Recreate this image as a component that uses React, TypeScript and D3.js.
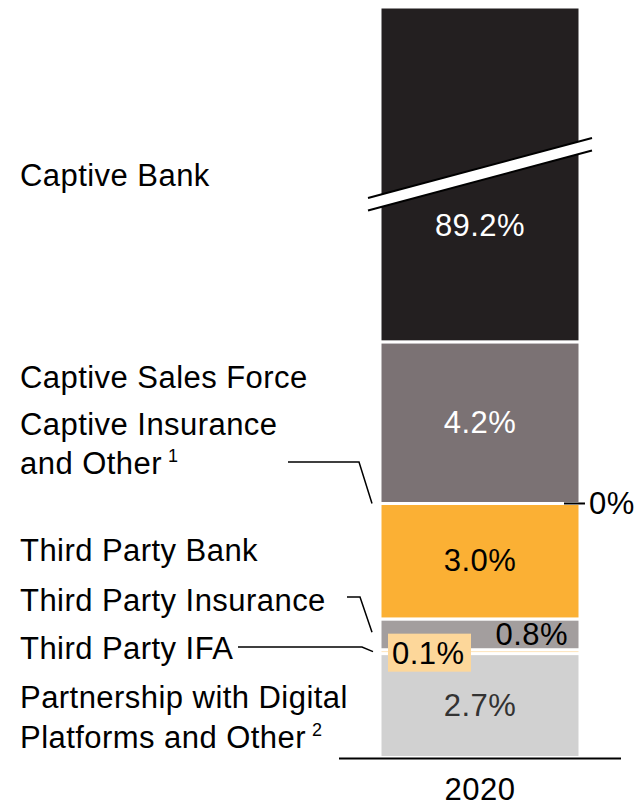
import React from "react";
import * as d3 from "d3";

// Distribution channel mix, 2020 (bottom-to-top stacking order reversed below)
const channels = [
  "Captive Bank",
  "Captive Sales Force",
  "Captive Insurance and Other",
  "Third Party Bank",
  "Third Party Insurance",
  "Third Party IFA",
  "Partnership with Digital Platforms and Other",
];
const shares2020 = [89.2, 4.2, 0, 3.0, 0.8, 0.1, 2.7];
const valueLabels = ["89.2%", "4.2%", "0%", "3.0%", "0.8%", "0.1%", "2.7%"];
const years = ["2020"];

const colors: Record<string, string> = {
  "Captive Bank": "#231F20",
  "Captive Sales Force": "#7B7274",
  "Captive Insurance and Other": "#7B7274",
  "Third Party Bank": "#FBB034",
  "Third Party Insurance": "#A39E9E",
  "Third Party IFA": "#FDD79A",
  "Partnership with Digital Platforms and Other": "#D1D1D1",
};

const W = 641;
const H = 806;
const FONT = "'Liberation Sans', Arial, Helvetica, sans-serif";
const FS = 31;
const LS = 0.45;

export default function App() {
  const row: Record<string, number | string> = { year: years[0] };
  channels.forEach((c, i) => (row[c] = shares2020[i]));
  const keys = [...channels].reverse();
  const series = d3.stack<any>().keys(keys)([row]);

  const x = d3
    .scaleBand<string>()
    .domain(years)
    .range([339, 621])
    .paddingInner(0)
    .paddingOuter(0.205);
  // Visible portion of the value axis; the Captive Bank bar is truncated (axis break)
  const y = d3.scaleLinear().domain([0, 19.5]).range([757.5, 7]).clamp(true);

  const x0 = x(years[0])!;
  const x1 = x0 + x.bandwidth();
  const xc = x0 + x.bandwidth() / 2;

  const seg = (name: string) => series.find((s) => s.key === name)![0];
  const mid = (name: string) => (y(seg(name)[0]) + y(seg(name)[1])) / 2;
  const idx = (name: string) => channels.indexOf(name);

  // break band across the Captive Bank bar
  const bx0 = x0 - 12;
  const bx1 = x1 + 12;
  const breakTop = (xx: number) => 198 + ((xx - bx0) / (bx1 - bx0)) * (138 - 198);
  const gap = 12.5;

  const zeroY = y(seg("Captive Insurance and Other")[0]);
  const tpInsY = mid("Third Party Insurance");
  const ifaY = mid("Third Party IFA");

  return (
    <svg
      width={W}
      height={H}
      style={{ position: "absolute", left: 0, top: 0 }}
      fontFamily={FONT}
      letterSpacing={LS}
    >
      <rect width={W} height={H} fill="#fff" />
      {series.map((s) => {
        const d = s[0];
        const top = y(d[1]);
        const bot = y(d[0]);
        if (bot - top <= 0) return null;
        return (
          <rect
            key={s.key}
            x={x0}
            y={top}
            width={x.bandwidth()}
            height={bot - top}
            fill={colors[s.key]}
            stroke="#fff"
            strokeWidth={3}
          />
        );
      })}

      {/* axis break */}
      <polygon
        points={`${bx0},${breakTop(bx0)} ${bx1},${breakTop(bx1)} ${bx1},${breakTop(bx1) + gap} ${bx0},${breakTop(bx0) + gap}`}
        fill="#fff"
      />
      <line x1={bx0} y1={breakTop(bx0)} x2={bx1} y2={breakTop(bx1)} stroke="#000" strokeWidth={2} />
      <line x1={bx0} y1={breakTop(bx0) + gap} x2={bx1} y2={breakTop(bx1) + gap} stroke="#000" strokeWidth={2} />

      {/* baseline + category */}
      <line x1={339} x2={621} y1={758.5} y2={758.5} stroke="#000" strokeWidth={2} />
      <text x={xc} y={800} fontSize={FS} textAnchor="middle" fill="#000">
        {years[0]}
      </text>

      {/* value labels inside the bar */}
      <text x={xc} y={y(seg("Captive Bank")[0]) - 106} fontSize={FS} textAnchor="middle" fill="#fff">
        {valueLabels[idx("Captive Bank")]}
      </text>
      <text x={xc} y={mid("Captive Sales Force") + 10} fontSize={FS} textAnchor="middle" fill="#fff">
        {valueLabels[idx("Captive Sales Force")]}
      </text>
      <text x={xc} y={mid("Third Party Bank") + 10} fontSize={FS} textAnchor="middle" fill="#000">
        {valueLabels[idx("Third Party Bank")]}
      </text>
      <text x={x1 - 12} y={tpInsY + 11} fontSize={FS} textAnchor="end" fill="#000">
        {valueLabels[idx("Third Party Insurance")]}
      </text>
      <rect x={388} y={ifaY - 18} width={83} height={38} fill={colors["Third Party IFA"]} />
      <text x={392} y={ifaY + 12} fontSize={FS} fill="#000">
        {valueLabels[idx("Third Party IFA")]}
      </text>
      <text
        x={xc}
        y={mid("Partnership with Digital Platforms and Other") + 10}
        fontSize={FS}
        textAnchor="middle"
        fill="#333"
      >
        {valueLabels[idx("Partnership with Digital Platforms and Other")]}
      </text>

      {/* zero-share marker */}
      <line x1={564} x2={585} y1={zeroY} y2={zeroY} stroke="#000" strokeWidth={2} />
      <text x={589} y={zeroY + 11} fontSize={FS} fill="#000">
        {valueLabels[idx("Captive Insurance and Other")]}
      </text>

      {/* leader lines */}
      <polyline
        points={`288,462 359,462 372,${zeroY}`}
        fill="none"
        stroke="#000"
        strokeWidth={1.5}
      />
      <polyline
        points={`347,597 360,597 372,${tpInsY - 2}`}
        fill="none"
        stroke="#000"
        strokeWidth={1.5}
      />
      <polyline
        points={`238,647 362,647 373,${ifaY}`}
        fill="none"
        stroke="#000"
        strokeWidth={1.5}
      />

      {/* channel names */}
      <g fontSize={FS} fill="#000">
        <text x={20} y={186}>Captive Bank</text>
        <text x={20} y={388}>Captive Sales Force</text>
        <text x={20} y={435}>Captive Insurance</text>
        <text x={20} y={474}>
          and Other<tspan fontSize={18} dx={6} dy={-12}>1</tspan>
        </text>
        <text x={20} y={561}>Third Party Bank</text>
        <text x={20} y={611}>Third Party Insurance</text>
        <text x={20} y={659}>Third Party IFA</text>
        <text x={20} y={708}>Partnership with Digital</text>
        <text x={20} y={748}>
          Platforms and Other<tspan fontSize={18} dx={6} dy={-12}>2</tspan>
        </text>
      </g>
    </svg>
  );
}
